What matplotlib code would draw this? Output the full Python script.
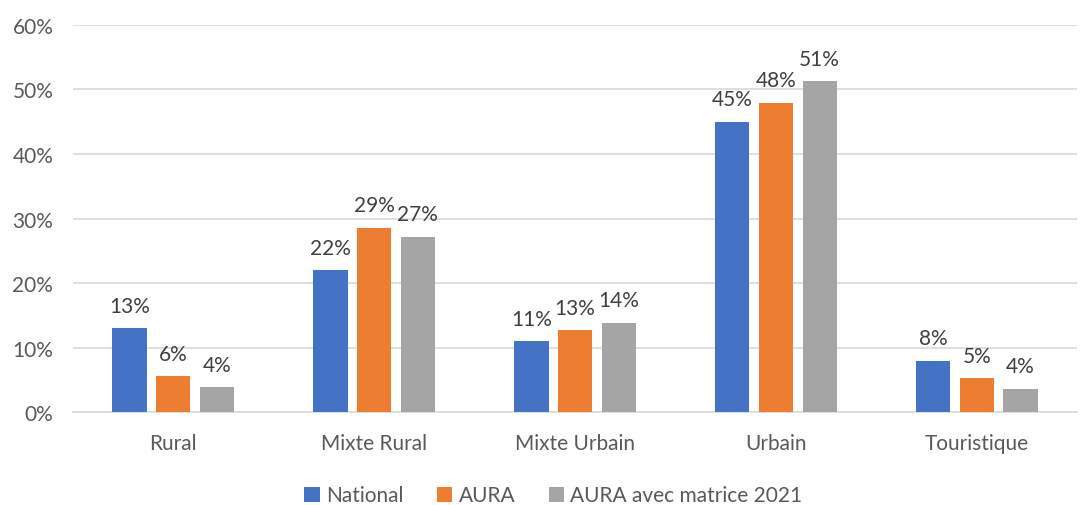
import numpy as np
import matplotlib.pyplot as plt

# data (percent)
categories = ['Rural', 'Mixte Rural', 'Mixte Urbain', 'Urbain', 'Touristique']
national = [13.0, 22.0, 11.0, 45.0, 8.0]
aura = [5.6, 28.6, 12.7, 47.9, 5.3]
aura_2021 = [3.9, 27.2, 13.9, 51.3, 3.7]

series_names = ['National', 'AURA', 'AURA avec matrice 2021']
colors = ['#4472C4', '#ED7D31', '#A5A5A5']
yticks = [0, 10, 20, 30, 40, 50, 60]

plt.rcParams['font.family'] = ['Lato', 'DejaVu Sans']
text_color = '#595959'
fs = 15

fig = plt.figure(figsize=(10.85, 5.06), dpi=100)
ax = fig.add_axes([0.067, 0.183, 0.926, 0.766])

x = np.arange(len(categories))
step = 0.217
width = 0.17
for i, (vals, name, col) in enumerate(zip([national, aura, aura_2021], series_names, colors)):
    pos = x + (i - 1) * step
    bars = ax.bar(pos, vals, width, color=col, label=name, zorder=3)
    for b, v in zip(bars, vals):
        ax.annotate(f'{v:.0f}%', (b.get_x() + b.get_width() / 2, v),
                    xytext=(0, 9), textcoords='offset points',
                    ha='center', va='bottom', fontsize=fs, color='#404040')

ax.set_ylim(0, 60)
ax.set_xlim(-0.5, len(categories) - 0.5)
ax.set_yticks(yticks)
ax.set_yticklabels([f'{t}%' for t in yticks], fontsize=fs, color=text_color)
ax.set_xticks(x)
ax.set_xticklabels(categories, fontsize=fs, color=text_color)
ax.tick_params(axis='both', length=0)
ax.tick_params(axis='x', pad=15)
ax.tick_params(axis='y', pad=14)
ax.grid(axis='y', color='#D9D9D9', linewidth=1.2, zorder=0)
for s in ['top', 'right', 'left']:
    ax.spines[s].set_visible(False)
ax.spines['bottom'].set_color('#D9D9D9')
ax.spines['bottom'].set_linewidth(1.2)

leg = fig.legend(loc='lower center', bbox_to_anchor=(0.51, -0.038), ncol=3,
                 frameon=False, fontsize=fs, handlelength=0.75, handleheight=0.75,
                 handletextpad=0.3, columnspacing=1.6)
for t in leg.get_texts():
    t.set_color(text_color)

fig.savefig('out.png', dpi=100)
